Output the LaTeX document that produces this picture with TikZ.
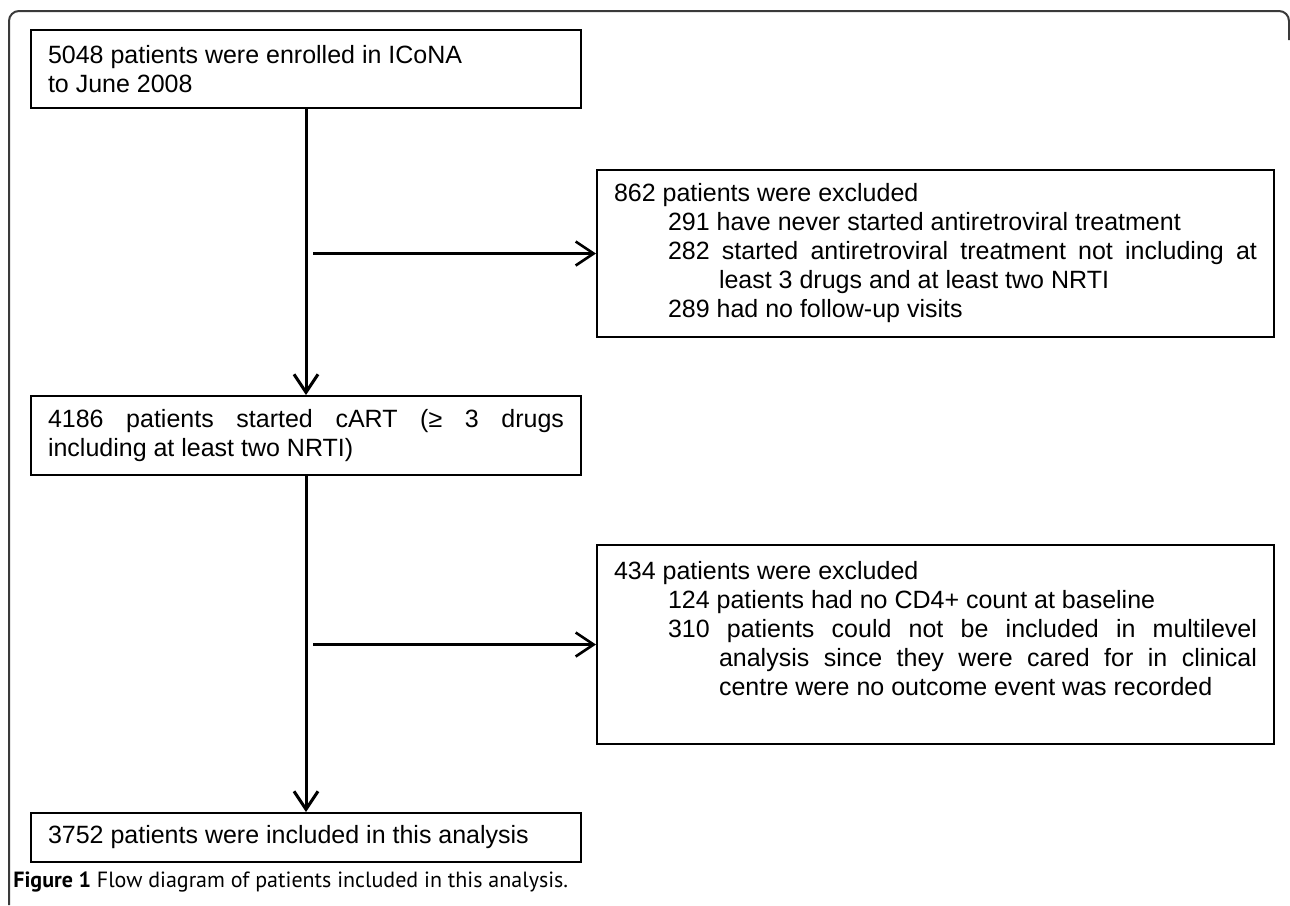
\documentclass[tikz,border=0pt]{standalone}
\usepackage{fontspec}
\setmainfont{Liberation Sans}
\newfontfamily\capfont{PT Sans}
\usetikzlibrary{arrows.meta,positioning,calc}
\definecolor{frgray}{HTML}{3A3A3A}
\hyphenpenalty=10000
\newcommand{\exitem}[1]{\par{\leftskip=27pt\hangindent=25.5pt\hangafter=1 #1\par}}

\begin{document}
\begin{tikzpicture}[x=0.5pt,y=-0.5pt,>={Straight Barb[length=9pt,width=12pt]}]
  \tikzset{
    flowbox/.style={draw=black,line width=1pt,inner xsep=8.5pt,inner ysep=4pt,
      align=justify,font=\fontsize{12.5}{14.5}\selectfont},
    mainbox/.style={flowbox,text width=258pt},
    exbox/.style={flowbox,text width=321.5pt,anchor=north west},
    flow/.style={line width=1.5pt,->},
  }
  \useasboundingbox (0,0) rectangle (1290,905);
  % outer frame
  \draw[frgray,line width=1pt,rounded corners=5pt] (9,905) -- (9,11) -- (1289,11) -- (1289,40);

  \node[mainbox,minimum height=39pt] (enrol) at (306,69)
    {5048 patients were enrolled in ICoNA\\to June 2008};
  \node[mainbox,minimum height=39.5pt] (cart) at (306,435.5)
    {4186 patients started cART (≥ 3 drugs\linebreak including at least two NRTI)};
  \node[mainbox,minimum height=24.5pt] (incl) at (306,837.5)
    {3752 patients were included in this analysis};

  \node[exbox,minimum height=83.5pt] (excl1) at (596,169)
    {862 patients were excluded
     \exitem{291 have never started antiretroviral treatment}
     \exitem{282 started antiretroviral treatment not including at\linebreak least 3 drugs and at least two NRTI}
     \exitem{289 had no follow-up visits}};
  \node[exbox,minimum height=99.5pt] (excl2) at (596,544)
    {434 patients were excluded
     \exitem{124 patients had no CD4+ count at baseline}
     \exitem{310 patients could not be included in multilevel\linebreak analysis since they were cared for in clinical\linebreak centre were no outcome event was recorded}
     \par\vskip 2pt\null};

  % connectors
  \draw[flow] (enrol) -- (cart);
  \draw[flow] (cart) -- (incl);
  \coordinate (split1) at ([xshift=3.5pt]enrol.south |- excl1.west);
  \coordinate (split2) at ([xshift=3.5pt]cart.south |- excl2.west);
  \draw[line width=1.3pt,->] (split1) -- (excl1.west);
  \draw[line width=1.3pt,->] (split2) -- (excl2.west);

  \node[anchor=base west,inner sep=0pt,font=\capfont\fontsize{11}{13}\selectfont] (cap) at (13,887)
    {\textbf{Figure 1} Flow diagram of patients included in this analysis.};
\end{tikzpicture}
\end{document}
